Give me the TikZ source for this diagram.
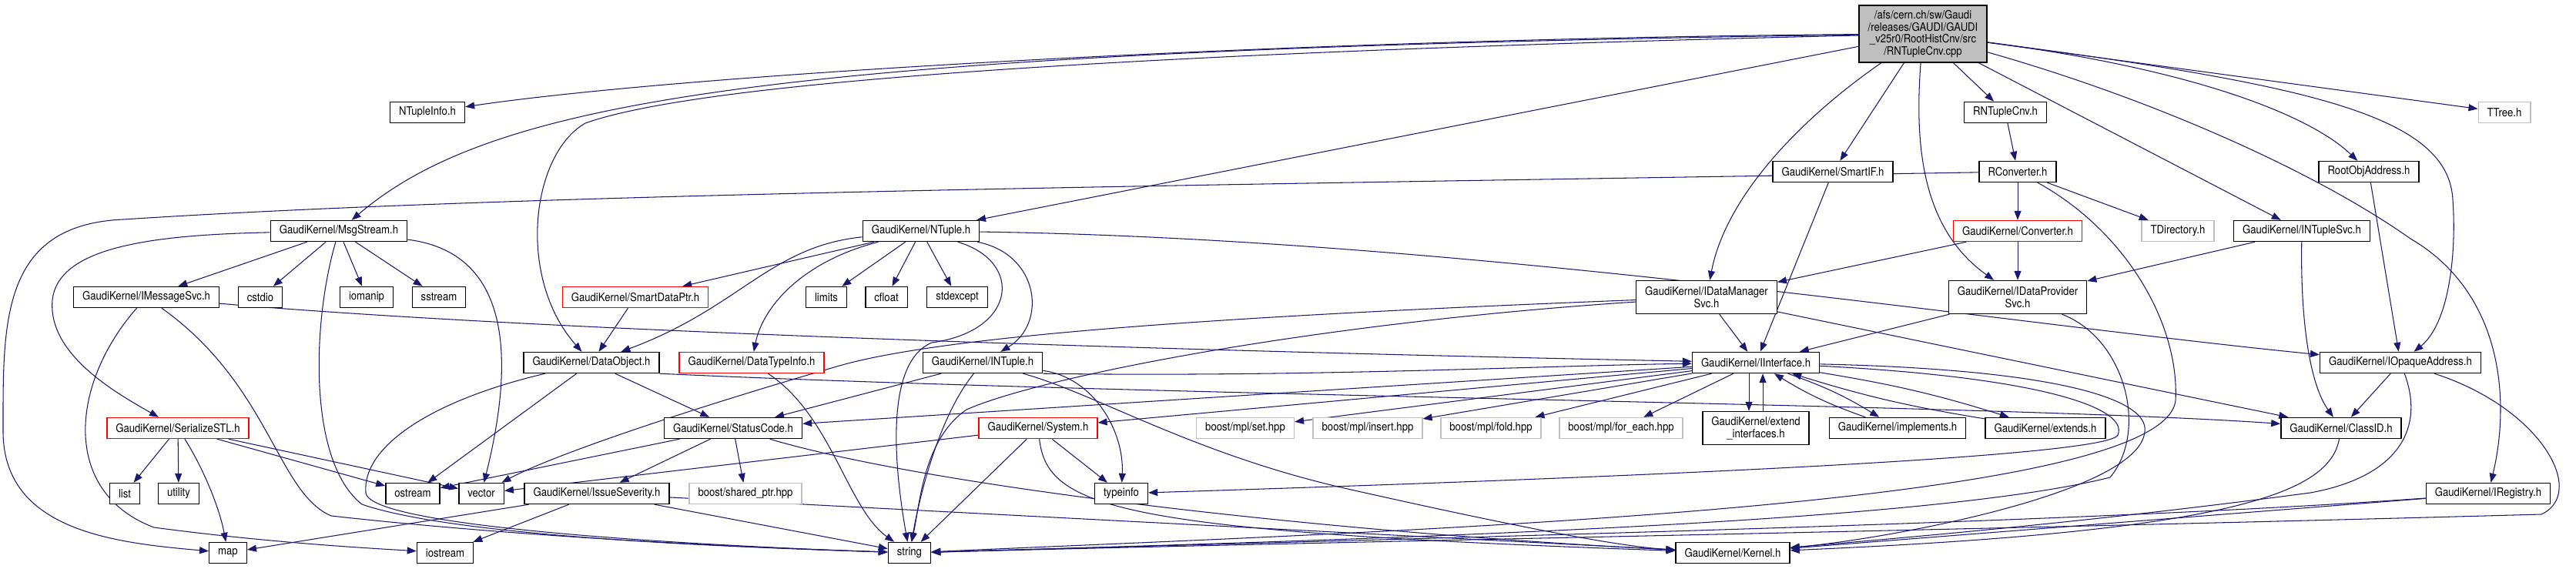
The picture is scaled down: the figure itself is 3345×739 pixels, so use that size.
\documentclass[tikz,border=0pt]{standalone}
\usepackage{fontspec}
\setsansfont{TeX Gyre Heros}[FakeStretch=0.88]
\usetikzlibrary{arrows.meta, backgrounds}
\definecolor{EdgeBlue} {HTML}{191970}
\definecolor{MissRed}  {HTML}{FF0000}
\definecolor{ExtGray}  {HTML}{BFBFBF}
\definecolor{MainFill} {HTML}{BFBFBF}
\tikzset{
  every node/.style={font=\fontsize{8.5}{9}\selectfont\sffamily},
  % header boxes
  hfile/.style={draw=black, fill=white, line width=0.8pt, minimum height=0.54cm,
                inner xsep=0.23cm, inner ysep=2pt, align=center},
  twoline/.style ={hfile, minimum height=0.86cm},
  redfile/.style ={hfile, draw=MissRed},
  extfile/.style ={hfile, draw=ExtGray},
  mainfile/.style={hfile, fill=MainFill, minimum height=1.48cm},
  dep/.style={draw=EdgeBlue, line width=0.6pt,
              -{Triangle[length=0.24cm, width=0.18cm]}},
}

\begin{document}
\begin{tikzpicture}[x=0.02cm, y=-0.02cm]
\useasboundingbox (0,0) rectangle (3345,739);

\node[mainfile] (cnv) at (2497,44)
  {/afs/cern.ch/sw/Gaudi\\/releases/GAUDI/GAUDI\\\_v25r0/RootHistCnv/src\\/RNTupleCnv.cpp};

\node[hfile]   (ntinfo)  at (555,146)  {NTupleInfo.h};
\node[hfile]   (rcnvh)   at (2604,146) {RNTupleCnv.h};
\node[extfile] (ttree)   at (3252,146) {TTree.h};

\node[hfile]   (smartif) at (2380,223) {GaudiKernel/SmartIF.h};
\node[hfile]   (rconv)   at (2620,223) {RConverter.h};
\node[hfile]   (rootobj) at (3076,223) {RootObjAddress.h};

\node[hfile]   (msg)     at (440,300)  {GaudiKernel/MsgStream.h};
\node[hfile]   (ntuple)  at (1196,300) {GaudiKernel/NTuple.h};
\node[redfile] (conv)    at (2620,300) {GaudiKernel/Converter.h};
\node[extfile] (tdir)    at (2828,300) {TDirectory.h};
\node[hfile]   (ntsvc)   at (2989,300) {GaudiKernel/INTupleSvc.h};

\node[hfile]   (imsg)    at (190,386)  {GaudiKernel/IMessageSvc.h};
\node[hfile]   (cstdio)  at (338,386)  {cstdio};
\node[hfile]   (iomanip) at (476,386)  {iomanip};
\node[hfile]   (sstream) at (570,386)  {sstream};
\node[redfile] (sdptr)   at (825,386)  {GaudiKernel/SmartDataPtr.h};
\node[hfile]   (limits)  at (1073,386) {limits};
\node[hfile]   (cfloat)  at (1151,386) {cfloat};
\node[hfile]   (stdexc)  at (1243,386) {stdexcept};
\node[twoline] (dmsvc)   at (2216,386) {GaudiKernel/IDataManager\\Svc.h};
\node[twoline] (dpsvc)   at (2620,386) {GaudiKernel/IDataProvider\\Svc.h};

\node[hfile]   (dobj)    at (768,471)  {GaudiKernel/DataObject.h};
\node[redfile] (dtinfo)  at (976,471)  {GaudiKernel/DataTypeInfo.h};
\node[hfile]   (intuple) at (1276,471) {GaudiKernel/INTuple.h};
\node[hfile]   (iif)     at (2280,471) {GaudiKernel/IInterface.h};
\node[hfile]   (iopq)    at (3117,471) {GaudiKernel/IOpaqueAddress.h};

\node[redfile] (serstl)  at (231,556)  {GaudiKernel/SerializeSTL.h};
\node[hfile]   (status)  at (952,556)  {GaudiKernel/StatusCode.h};
\node[redfile] (system)  at (1348,556) {GaudiKernel/System.h};
\node[extfile] (mplset)  at (1617,556) {boost/mpl/set.hpp};
\node[extfile] (mplins)  at (1776,556) {boost/mpl/insert.hpp};
\node[extfile] (mplfold) at (1936,556) {boost/mpl/fold.hpp};
\node[extfile] (mplfe)   at (2105,556) {boost/mpl/for\_each.hpp};
\node[twoline] (extif)   at (2280,556) {GaudiKernel/extend\\\_interfaces.h};
\node[hfile]   (impl)    at (2464,556) {GaudiKernel/implements.h};
\node[hfile]   (extends) at (2656,556) {GaudiKernel/extends.h};
\node[hfile]   (classid) at (3040,556) {GaudiKernel/ClassID.h};

\node[hfile]   (list)    at (162,641)  {list};
\node[hfile]   (utility) at (232,641)  {utility};
\node[hfile]   (ostream) at (536,641)  {ostream};
\node[hfile]   (vector)  at (625,641)  {vector};
\node[hfile]   (issue)   at (775,641)  {GaudiKernel/IssueSeverity.h};
\node[extfile] (shptr)   at (968,641)  {boost/shared\_ptr.hpp};
\node[hfile]   (typeinfo) at (1456,641) {typeinfo};
\node[hfile]   (ireg)    at (3231,641) {GaudiKernel/IRegistry.h};

\node[hfile]   (map)     at (296,718)  {map};
\node[hfile]   (iostream) at (578,718) {iostream};
\node[hfile]   (string)  at (1181,718) {string};
\node[hfile]   (kernel)  at (2250,718) {GaudiKernel/Kernel.h};

\begin{scope}[on background layer]
% includes of the source file
\draw[dep] (cnv) .. controls (1700,50) and (900,95) .. (ntinfo);
\draw[dep] (cnv) .. controls (1000,65) and (640,130) .. (msg);
\draw[dep] (cnv) .. controls (1400,70) and (900,110) .. (760,160)
                 .. controls (690,200) and (670,360) .. (dobj);
\draw[dep] (cnv) -- (ntuple);
\draw[dep] (cnv) .. controls (2330,160) and (2240,260) .. (dmsvc);
\draw[dep] (cnv) -- (smartif);
\draw[dep] (cnv) .. controls (2485,200) and (2500,300) .. (dpsvc);
\draw[dep] (cnv) -- (rcnvh);
\draw[dep] (cnv) -- (ntsvc);
\draw[dep] (cnv) .. controls (2800,130) and (3010,225) .. (3130,310)
                 .. controls (3250,380) and (3260,520) .. (ireg);
\draw[dep] (cnv) -- (ttree);
\draw[dep] (cnv) .. controls (2850,90) and (3000,150) .. (rootobj);
\draw[dep] (cnv) .. controls (3000,110) and (3180,150) .. (3185,260)
                 .. controls (3190,330) and (3180,420) .. (iopq);

\draw[dep] (rcnvh) -- (rconv);
\draw[dep] (rconv) -- (conv);
\draw[dep] (rconv) -- (tdir);
\draw[dep] (rconv) .. controls (1600,240) and (700,250) .. (160,285)
                   .. controls (0,292) and (4,420) .. (4,560)
                   .. controls (4,690) and (150,705) .. (map);
\draw[dep] (rconv) .. controls (2760,300) and (2830,420) .. (2825,520)
                   .. controls (2810,660) and (1800,690) .. (string);
\draw[dep] (conv) -- (dmsvc);
\draw[dep] (conv) -- (dpsvc);
\draw[dep] (ntsvc) -- (dpsvc);
\draw[dep] (ntsvc) .. controls (2987,420) and (3000,500) .. (classid);
\draw[dep] (smartif) -- (iif);
\draw[dep] (rootobj) -- (iopq);

\draw[dep] (dmsvc) -- (iif);
\draw[dep] (dmsvc) -- (classid);
\draw[dep] (dmsvc) .. controls (1600,410) and (1230,435) .. (1090,475)
                   .. controls (900,530) and (720,590) .. (vector);
\draw[dep] (dmsvc) .. controls (1700,420) and (1350,490) .. (1255,532)
                   .. controls (1200,570) and (1195,650) .. (string);
\draw[dep] (dpsvc) -- (iif);
\draw[dep] (dpsvc) .. controls (2760,440) and (2790,560) .. (2740,620)
                   .. controls (2500,680) and (1800,700) .. (string);

% IInterface and its family
\draw[dep] (iif) .. controls (2650,490) and (2765,530) .. (2750,565)
                 .. controls (2735,600) and (1800,630) .. (typeinfo);
\draw[dep] (iif) .. controls (2680,480) and (2790,520) .. (2785,560)
                 .. controls (2780,640) and (2450,700) .. (kernel);
\draw[dep] (iif) -- (system);
\draw[dep] (iif) -- (status);
\draw[dep] (iif) -- (mplset);
\draw[dep] (iif) -- (mplins);
\draw[dep] (iif) -- (mplfold);
\draw[dep] (iif) -- (mplfe);
\draw[dep] ([xshift=-0.18cm]iif.south) -- ([xshift=-0.18cm]extif.north);
\draw[dep] ([xshift=0.18cm]extif.north) -- ([xshift=0.18cm]iif.south);
\draw[dep] (iif) to[bend left=6] (impl);
\draw[dep] (impl) to[bend left=6] (iif);
\draw[dep] (iif) to[bend left=4] (extends);
\draw[dep] (extends) to[bend left=4] (iif);

\draw[dep] (iopq) -- (classid);
\draw[dep] (iopq) .. controls (3150,560) and (3110,620) .. (3000,640)
                  .. controls (2700,680) and (2450,700) .. (kernel);
\draw[dep] (iopq) .. controls (3300,530) and (3360,640) .. (3300,668)
                  .. controls (2500,690) and (1800,702) .. (string);
\draw[dep] (ireg) -- (kernel);
\draw[dep] (ireg) .. controls (2700,680) and (1800,700) .. (string);
\draw[dep] (classid) .. controls (3025,640) and (2900,690) .. (kernel);

% MsgStream
\draw[dep] (msg) -- (imsg);
\draw[dep] (msg) -- (cstdio);
\draw[dep] (msg) -- (iomanip);
\draw[dep] (msg) -- (sstream);
\draw[dep] (msg) .. controls (200,305) and (75,320) .. (68,390)
                 .. controls (62,460) and (150,510) .. (serstl);
\draw[dep] (msg) .. controls (680,330) and (660,500) .. (vector);
\draw[dep] (msg) .. controls (405,420) and (400,600) .. (470,655)
                 .. controls (600,700) and (1000,712) .. (string);
\draw[dep] (imsg) .. controls (700,430) and (1500,455) .. (iif);
\draw[dep] (imsg) .. controls (350,500) and (360,640) .. (430,670)
                  .. controls (700,700) and (1000,712) .. (string);
\draw[dep] (imsg) .. controls (90,500) and (80,640) .. (200,685)
                  .. controls (350,705) and (480,712) .. (iostream);

\draw[dep] (serstl) -- (list);
\draw[dep] (serstl) -- (utility);
\draw[dep] (serstl) .. controls (265,610) and (285,660) .. (map);
\draw[dep] (serstl) -- (ostream);
\draw[dep] (serstl) -- (vector);

% NTuple
\draw[dep] (ntuple) -- (sdptr);
\draw[dep] (ntuple) .. controls (1000,320) and (960,400) .. (dobj);
\draw[dep] (ntuple) .. controls (1040,340) and (990,400) .. (dtinfo);
\draw[dep] (ntuple) -- (limits);
\draw[dep] (ntuple) -- (cfloat);
\draw[dep] (ntuple) -- (stdexc);
\draw[dep] (ntuple) .. controls (1330,340) and (1320,430) .. (1210,445)
                    .. controls (1150,470) and (1160,600) .. (string);
\draw[dep] (ntuple) .. controls (1350,330) and (1360,420) .. (intuple);
\draw[dep] (ntuple) .. controls (1900,310) and (2600,420) .. (iopq);
\draw[dep] (sdptr) -- (dobj);
\draw[dep] (dtinfo) .. controls (1080,540) and (1100,660) .. (string);

\draw[dep] (dobj) -- (status);
\draw[dep] (dobj) -- (ostream);
\draw[dep] (dobj.south east) .. controls (1500,515) and (2600,525) .. (classid);
\draw[dep] (dobj) .. controls (560,520) and (470,580) .. (475,640)
                  .. controls (480,690) and (1000,712) .. (string);

\draw[dep] (intuple) -- (status);
\draw[dep] (intuple) .. controls (1220,540) and (1195,640) .. (string);
\draw[dep] (intuple) .. controls (1420,490) and (1460,560) .. (typeinfo);
\draw[dep] (intuple) .. controls (1420,510) and (1550,590) .. (1750,635)
                     .. controls (1950,680) and (2100,710) .. (kernel);
\draw[dep] (intuple.south east) .. controls (1700,490) and (2000,475) .. (iif);

\draw[dep] (status) -- (issue);
\draw[dep] (status) -- (shptr);
\draw[dep] (status) -- (ostream);
\draw[dep] (status) .. controls (1200,630) and (1700,690) .. (kernel);

\draw[dep] (system) -- (typeinfo);
\draw[dep] (system) -- (string);
\draw[dep] (system) -- (vector);
\draw[dep] (system) .. controls (1360,660) and (1450,690) .. (kernel);

\draw[dep] (issue) -- (map);
\draw[dep] (issue) -- (iostream);
\draw[dep] (issue) -- (string);
\draw[dep] (issue) -- (kernel);
\end{scope}

\end{tikzpicture}
\end{document}
